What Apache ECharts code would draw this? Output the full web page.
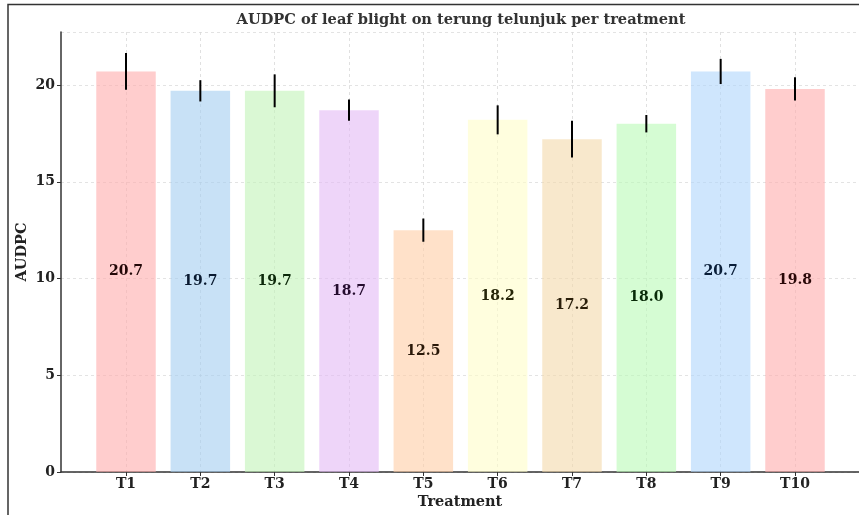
<!DOCTYPE html>
<html>
<head>
<meta charset="utf-8">
<title>AUDPC per treatment</title>
<script src="https://cdn.jsdelivr.net/npm/echarts@6/dist/echarts.min.js"></script>
<style>
  html, body { margin: 0; padding: 0; background: #fff; }
  #chart { width: 859px; height: 515px; }
</style>
</head>
<body>
<div id="chart"></div>
<script>
// Treatments and their mean AUDPC with the spread shown as error bars
const categories = ['T1', 'T2', 'T3', 'T4', 'T5', 'T6', 'T7', 'T8', 'T9', 'T10'];
const audpc = [20.7, 19.7, 19.7, 18.7, 12.5, 18.2, 17.2, 18.0, 20.7, 19.8];
const errors = [0.95, 0.55, 0.85, 0.55, 0.6, 0.75, 0.95, 0.45, 0.65, 0.6];
const yTicks = [0, 5, 10, 15, 20];

// Styling: translucent pastel bars, dark tinted value labels
const barColors = ['rgba(255,172,172,0.6)', 'rgba(163,205,240,0.6)', 'rgba(193,243,183,0.6)',
                   'rgba(227,185,245,0.6)', 'rgba(255,205,165,0.6)', 'rgba(255,253,200,0.6)',
                   'rgba(243,217,170,0.6)', 'rgba(185,250,182,0.6)', 'rgba(175,213,252,0.6)',
                   'rgba(255,172,172,0.6)'];
const labelColors = ['#220808', '#0a1a30', '#0c280a', '#240c2e', '#2a1808',
                     '#262608', '#2a1e0a', '#082a08', '#0a1e38', '#2a0808'];
const serif = '"DejaVu Serif", "Liberation Serif", serif';
const yMax = 22.74;

const chart = echarts.init(document.getElementById('chart'), null, { renderer: 'canvas' });

const option = {
  animation: false,
  backgroundColor: '#ffffff',
  grid: [
    // frame grid: spines, y labels, horizontal grid lines
    { left: 61, top: 32, width: 800, height: 440 },
    // bar grid: category centres T1..T10
    { left: 126, top: 32, width: 669, height: 440 }
  ],
  xAxis: [
    {
      type: 'value', gridIndex: 0, min: 0, max: 1,
      axisLine: { show: true, lineStyle: { color: '#333', width: 1.5 } },
      axisTick: { show: false }, axisLabel: { show: false }, splitLine: { show: false },
      name: 'Treatment', nameLocation: 'middle', nameGap: 23,
      nameTextStyle: { fontFamily: serif, fontWeight: 'bold', fontSize: 14.5, color: '#222' }
    },
    {
      type: 'category', gridIndex: 1, data: categories, boundaryGap: false,
      axisLine: { show: false },
      axisTick: { show: true, length: 4, lineStyle: { color: '#333' } },
      axisLabel: { fontFamily: serif, fontWeight: 'bold', fontSize: 14, color: '#222', margin: 5 },
      splitLine: { show: true, lineStyle: { color: '#d9d9d9', type: [3, 3], width: 0.8 } }
    }
  ],
  yAxis: [
    {
      type: 'value', gridIndex: 0, min: 0, max: yMax, interval: 5,
      axisLine: { show: true, lineStyle: { color: '#333', width: 1.5 } },
      axisTick: { show: true, length: 4, lineStyle: { color: '#333' } },
      axisLabel: {
        fontFamily: serif, fontWeight: 'bold', fontSize: 14, color: '#222', margin: 6,
        showMaxLabel: false,
        formatter: v => (yTicks.indexOf(v) >= 0 ? String(v) : '')
      },
      splitLine: { show: true, lineStyle: { color: '#dcdcdc', type: [3, 3], width: 0.8 } }
    },
    {
      type: 'value', gridIndex: 1, min: 0, max: yMax, show: false,
      splitLine: { show: false }
    }
  ],
  series: [
    {
      type: 'bar',
      xAxisIndex: 1, yAxisIndex: 1,
      barWidth: 59.5,
      data: audpc.map((v, i) => ({
        value: v,
        itemStyle: { color: barColors[i] },
        label: { color: labelColors[i] }
      })),
      label: {
        show: true, position: 'inside',
        fontFamily: serif, fontWeight: 'bold', fontSize: 14,
        formatter: p => p.value.toFixed(1)
      },
      z: 2
    },
    {
      type: 'custom',
      xAxisIndex: 1, yAxisIndex: 1,
      data: audpc.map((v, i) => [i, v - errors[i], v + errors[i]]),
      renderItem: (params, api) => {
        const lo = api.coord([api.value(0), api.value(1)]);
        const hi = api.coord([api.value(0), api.value(2)]);
        return {
          type: 'line',
          shape: { x1: lo[0], y1: lo[1], x2: hi[0], y2: hi[1] },
          style: { stroke: '#000', lineWidth: 2 }
        };
      },
      z: 5
    }
  ],
  graphic: [
    {
      type: 'text', x: 461, y: 20,
      style: {
        text: 'AUDPC of leaf blight on terung telunjuk per treatment',
        fontFamily: serif, fontWeight: 'bold', fontSize: 14.6, fill: '#333',
        align: 'center', verticalAlign: 'middle'
      }
    },
    {
      // y-axis title, rotated
      type: 'text', x: 22, y: 252, rotation: Math.PI / 2,
      style: {
        text: 'AUDPC',
        fontFamily: serif, fontWeight: 'bold', fontSize: 14.5, fill: '#222',
        align: 'center', verticalAlign: 'middle'
      }
    },
    {
      type: 'rect', silent: true,
      shape: { x: 8, y: 4.5, width: 900, height: 600 },
      style: { fill: 'none', stroke: '#333', lineWidth: 1.5 }
    }
  ]
};

chart.setOption(option);
</script>
</body>
</html>
